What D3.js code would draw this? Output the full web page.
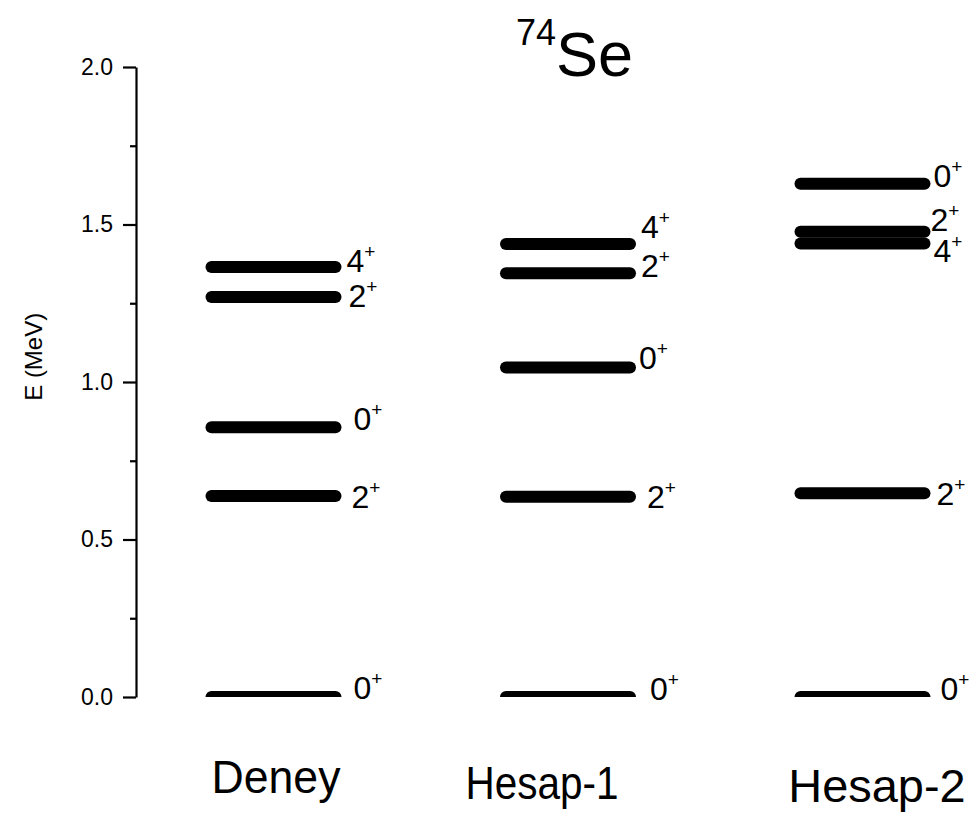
<!DOCTYPE html>
<html>
<head>
<meta charset="utf-8">
<script src="https://cdn.jsdelivr.net/npm/d3@7"></script>
<style>
  html, body { margin: 0; padding: 0; background: #fff; }
  svg { display: block; font-family: "Liberation Sans", Arial, sans-serif; }
</style>
</head>
<body>
<svg id="chart" width="973" height="814"></svg>
<script>
// Level scheme of 74Se: experiment vs. two calculations
const categories = ["Deney", "Hesap-1", "Hesap-2"];

// Level energies (MeV) for each column
const deneyEnergy  = [0.000, 0.638, 0.856, 1.270, 1.365];
const hesap1Energy = [0.000, 0.636, 1.046, 1.345, 1.438];
const hesap2Energy = [0.000, 0.647, 1.440, 1.477, 1.629];

// Spin-parity of each level
const deneySpin  = ["0", "2", "0", "2", "4"];
const hesap1Spin = ["0", "2", "0", "2", "4"];
const hesap2Spin = ["0", "2", "4", "2", "0"];

// Axis ticks
const majorTicks = [0.0, 0.5, 1.0, 1.5, 2.0];
const minorTicks = [0.25, 0.75, 1.25, 1.75];

const energies = [deneyEnergy, hesap1Energy, hesap2Energy];
const spins = [deneySpin, hesap1Spin, hesap2Spin];

// Label placement offsets [dx, dy] from the right end of each level
const labelOffsets = [
  [[12, 2], [10, 12], [12, 3], [7, 10], [5, 5]],
  [[14, 3], [11, 11], [3, 1], [5, 4], [5, -6]],
  [[10, 3], [6, 12], [3, 19], [0, -1], [3, 3]]
];

// Column name placement: centre x, baseline y, font size, horizontal scale
const nameLayout = [
  { cx: 276, by: 793, size: 46, sx: 0.97 },
  { cx: 542, by: 799, size: 46, sx: 0.88 },
  { cx: 877, by: 802, size: 46, sx: 1.02 }
];

const svg = d3.select("#chart");

const y = d3.scaleLinear().domain([0, 2]).range([697, 67]);
const x = d3.scalePoint().domain(categories).range([273.5, 862.5]);
const halfLen = 62;   // half length of a level bar (without caps)

// clip so the ground-state bars are cut at E = 0
svg.append("defs").append("clipPath").attr("id", "plotClip")
  .append("rect").attr("x", 0).attr("y", 0).attr("width", 973).attr("height", y(0));

// Y axis with major ticks
const axis = d3.axisLeft(y)
  .tickValues(majorTicks)
  .tickFormat(d3.format(".1f"))
  .tickSize(13)
  .tickSizeOuter(0)
  .tickPadding(10);

const gAxis = svg.append("g").attr("transform", "translate(136,0)").call(axis);
gAxis.attr("font-size", null).attr("font-family", null);
gAxis.select(".domain").attr("stroke", "#000").attr("stroke-width", 2.2);
gAxis.selectAll(".tick line").attr("stroke", "#000").attr("stroke-width", 2.2);
gAxis.selectAll(".tick text")
  .style("font-size", "23px")
  .style("font-family", "'Liberation Sans', Arial, sans-serif")
  .attr("fill", "#000");

// minor ticks
const minorAxis = d3.axisLeft(y).tickValues(minorTicks).tickSize(6).tickFormat("").tickSizeOuter(0);
const gMinor = svg.append("g").attr("transform", "translate(136,0)").call(minorAxis);
gMinor.select(".domain").remove();
gMinor.selectAll(".tick line").attr("stroke", "#000").attr("stroke-width", 2.2);

// Y axis title
svg.append("text")
  .attr("transform", `translate(42,${y(1.08)}) rotate(-90)`)
  .attr("text-anchor", "middle")
  .style("font-size", "24px")
  .attr("fill", "#000")
  .text("E (MeV)");

// Level bars and spin labels
const levels = svg.append("g").attr("clip-path", "url(#plotClip)");

categories.forEach((cat, ci) => {
  const cx = x(cat);
  energies[ci].forEach((e, li) => {
    levels.append("line")
      .attr("x1", cx - halfLen).attr("x2", cx + halfLen)
      .attr("y1", y(e)).attr("y2", y(e))
      .attr("stroke", "#000")
      .attr("stroke-width", 12)
      .attr("stroke-linecap", "round");

    const [dx, dy] = labelOffsets[ci][li];
    const t = svg.append("text")
      .attr("x", cx + halfLen + 6 + dx)
      .attr("y", y(e) + dy)
      .style("font-size", "32px")
      .attr("fill", "#000");
    t.append("tspan").text(spins[ci][li]);
    t.append("tspan").style("font-size", "19px").attr("dy", -14).text("+");
  });
});

// Column names
categories.forEach((cat, ci) => {
  const L = nameLayout[ci];
  svg.append("text")
    .attr("transform", `translate(${L.cx},${L.by}) scale(${L.sx},1)`)
    .attr("text-anchor", "middle")
    .style("font-size", L.size + "px")
    .attr("fill", "#000")
    .text(cat);
});

// Title
const title = svg.append("text").attr("x", 516).attr("y", 76).attr("fill", "#000");
title.append("tspan").style("font-size", "36px").attr("dy", -31).text("74");
title.append("tspan").style("font-size", "63px").attr("dy", 31).text("Se");
</script>
</body>
</html>
